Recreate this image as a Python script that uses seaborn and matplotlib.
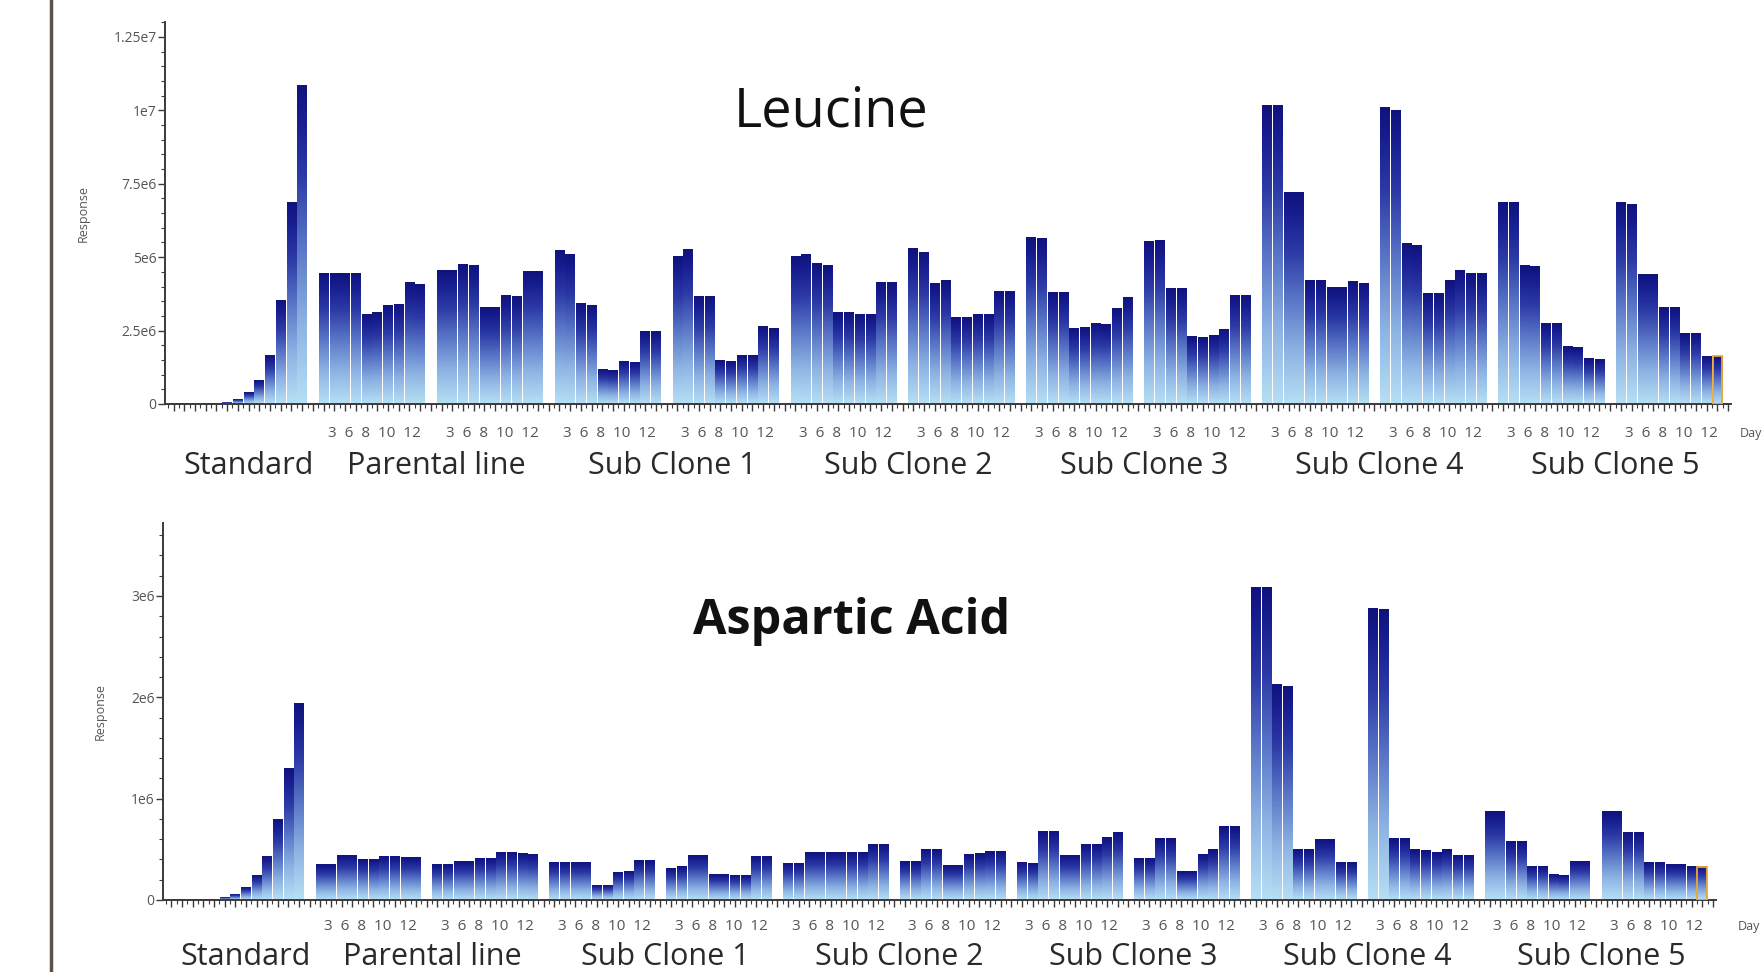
import numpy as np
import pandas as pd
import matplotlib
matplotlib.use('Agg')
import matplotlib.pyplot as plt
import matplotlib.ticker as mticker
import matplotlib.transforms as mtransforms
from matplotlib.colors import LinearSegmentedColormap
from matplotlib.lines import Line2D
import seaborn as sns

# Sample names and sampling days (each day run in duplicate)
samples = ['Parental line', 'Sub Clone 1', 'Sub Clone 2', 'Sub Clone 3', 'Sub Clone 4', 'Sub Clone 5']
days = [3, 6, 8, 10, 12]

# Leucine responses, in millions (two runs per sample)
leu_standard = [0.001, 0.002, 0.004, 0.01, 0.025, 0.06, 0.14, 0.38, 0.8, 1.66, 3.53, 6.85, 10.85]
leu_parental = [[4.44, 4.44, 4.44, 4.44, 3.04, 3.10, 3.36, 3.38, 4.13, 4.07],
                [4.55, 4.53, 4.76, 4.70, 3.29, 3.27, 3.69, 3.67, 4.51, 4.51]]
leu_clone1 = [[5.22, 5.08, 3.42, 3.36, 1.17, 1.15, 1.46, 1.43, 2.47, 2.47],
              [5.01, 5.25, 3.65, 3.65, 1.49, 1.46, 1.64, 1.64, 2.64, 2.58]]
leu_clone2 = [[5.01, 5.10, 4.78, 4.72, 3.10, 3.10, 3.06, 3.04, 4.13, 4.13],
              [5.28, 5.16, 4.11, 4.19, 2.96, 2.96, 3.06, 3.04, 3.84, 3.84]]
leu_clone3 = [[5.68, 5.65, 3.81, 3.81, 2.56, 2.61, 2.75, 2.72, 3.25, 3.64],
              [5.53, 5.56, 3.92, 3.92, 2.29, 2.27, 2.32, 2.55, 3.69, 3.69]]
leu_clone4 = [[10.15, 10.15, 7.19, 7.19, 4.19, 4.19, 3.98, 3.96, 4.16, 4.09],
              [10.11, 9.98, 5.45, 5.39, 3.78, 3.78, 4.21, 4.55, 4.44, 4.44]]
leu_clone5 = [[6.85, 6.85, 4.70, 4.67, 2.75, 2.75, 1.95, 1.92, 1.55, 1.53],
              [6.85, 6.80, 4.41, 4.41, 3.29, 3.29, 2.41, 2.41, 1.63, 1.63]]

# Aspartic acid responses, in millions
asp_standard = [0.001, 0.001, 0.002, 0.004, 0.008, 0.02, 0.05, 0.12, 0.24, 0.43, 0.79, 1.30, 1.94]
asp_parental = [[0.35, 0.35, 0.44, 0.44, 0.40, 0.40, 0.43, 0.43, 0.42, 0.42],
                [0.35, 0.35, 0.38, 0.38, 0.41, 0.41, 0.47, 0.47, 0.46, 0.45]]
asp_clone1 = [[0.37, 0.37, 0.37, 0.37, 0.14, 0.14, 0.27, 0.28, 0.39, 0.39],
              [0.31, 0.33, 0.44, 0.44, 0.25, 0.25, 0.24, 0.24, 0.43, 0.43]]
asp_clone2 = [[0.36, 0.36, 0.47, 0.47, 0.47, 0.47, 0.47, 0.47, 0.55, 0.55],
              [0.38, 0.38, 0.50, 0.50, 0.34, 0.34, 0.45, 0.46, 0.48, 0.48]]
asp_clone3 = [[0.37, 0.36, 0.68, 0.68, 0.44, 0.44, 0.55, 0.55, 0.62, 0.67],
              [0.41, 0.41, 0.61, 0.61, 0.28, 0.28, 0.45, 0.50, 0.73, 0.73]]
asp_clone4 = [[3.08, 3.08, 2.13, 2.11, 0.50, 0.50, 0.60, 0.60, 0.37, 0.37],
              [2.88, 2.87, 0.61, 0.61, 0.50, 0.49, 0.47, 0.50, 0.44, 0.44]]
asp_clone5 = [[0.875, 0.875, 0.58, 0.58, 0.33, 0.33, 0.25, 0.24, 0.38, 0.38],
              [0.875, 0.875, 0.67, 0.67, 0.37, 0.37, 0.35, 0.35, 0.33, 0.33]]

leu_samples = [leu_parental, leu_clone1, leu_clone2, leu_clone3, leu_clone4, leu_clone5]
asp_samples = [asp_parental, asp_clone1, asp_clone2, asp_clone3, asp_clone4, asp_clone5]

# Layout of the x axis: standards, one empty slot, then runs of 10 bars with an empty slot after each
n_std = len(leu_standard)
run_len = 2 * len(days)
first_run = n_std + 1
n_slots = first_run + (run_len + 1) * 2 * len(samples) - 1
slot_order = ['s%03d' % i for i in range(n_slots)]


def build_frame(standard, sample_runs):
    rows = []
    for i, v in enumerate(standard):
        rows.append((slot_order[i], v * 1e6))
    for s, runs in enumerate(sample_runs):
        for r, run in enumerate(runs):
            start = first_run + (2 * s + r) * (run_len + 1)
            for j, v in enumerate(run):
                rows.append((slot_order[start + j], v * 1e6))
    return pd.DataFrame(rows, columns=['slot', 'response'])


def sci_label(v, pos):
    if v <= 0:
        return '0'
    exp = int(np.floor(np.log10(v) + 1e-9))
    return '%ge%d' % (v / 10 ** exp, exp)


sns.set_theme(style='white')
plt.rcParams['font.family'] = ['Open Sans', 'DejaVu Sans']

bar_cmap = LinearSegmentedColormap.from_list(
    'bars', [(0.0, '#b6e0f5'), (0.25, '#8db3e3'), (0.5, '#5874c6'),
             (0.72, '#2c3aa6'), (0.9, '#171d8f'), (1.0, '#10137c')])
grad = np.linspace(0, 1, 256).reshape(-1, 1)

fig = plt.figure(figsize=(17.64, 9.72), dpi=100)
ax_top = fig.add_axes([0.0935, 0.5844, 0.888, 0.3927])
ax_bot = fig.add_axes([0.0924, 0.0741, 0.8804, 0.3878])

# left frame line of the screenshot
fig.add_artist(Line2D([0.029, 0.029], [0, 1], color='#5b5345', lw=2.5, transform=fig.transFigure))

panels = [
    (ax_top, leu_standard, leu_samples, 1.30e7, 2.5e6, 'Leucine', 'normal', 39, (0.471, 0.885),
     0.5206, 0.5545, -0.048, 0.986),
    (ax_bot, asp_standard, asp_samples, 3.72e6, 1e6, 'Aspartic Acid', 'bold', 35, (0.4825, 0.361),
     0.0150, 0.0473, -0.036, 0.985),
]

for (ax, standard, sample_runs, ytop, ystep, title, weight, tsize, tpos,
     label_y, day_y, ylab_x, day_x) in panels:
    df = build_frame(standard, sample_runs)
    sns.barplot(data=df, x='slot', y='response', order=slot_order, width=0.9,
                color='#3b4fb5', errorbar=None, ax=ax)

    # vertical gradient inside every bar
    bars = [p for p in ax.patches if p.get_height() > 0]
    last = max(bars, key=lambda p: p.get_x())
    for p in bars:
        x0, w, h = p.get_x(), p.get_width(), p.get_height()
        ax.imshow(grad, extent=(x0, x0 + w, 0, h), origin='lower', aspect='auto',
                  cmap=bar_cmap, zorder=2, interpolation='bilinear')
        p.set_facecolor('none')
        p.set_edgecolor('none')
    last.set_edgecolor('#f0a830')
    last.set_linewidth(1.3)
    last.set_zorder(3)

    ax.set_xlim(-0.8, n_slots + 0.3)
    ax.set_ylim(0, ytop)

    # axes styling
    for side in ['top', 'right']:
        ax.spines[side].set_visible(False)
    for side in ['left', 'bottom']:
        ax.spines[side].set_color('#3a3a3a')
        ax.spines[side].set_linewidth(1.4)
    ax.set_xticks(np.arange(n_slots + 1))
    ax.set_xticklabels([])
    ax.set_xticks(np.arange(n_slots + 1) - 0.5, minor=True)
    ax.yaxis.set_major_locator(mticker.MultipleLocator(ystep))
    ax.yaxis.set_minor_locator(mticker.AutoMinorLocator(5))
    ax.yaxis.set_major_formatter(mticker.FuncFormatter(sci_label))
    ax.tick_params(axis='both', which='major', direction='out', length=5, width=1,
                   color='#3a3a3a', bottom=True, left=True, labelsize=10, labelcolor='#555555', pad=1)
    ax.tick_params(axis='both', which='minor', direction='out', length=3, width=0.8,
                   color='#3a3a3a', bottom=True, left=True)
    ax.set_xlabel('')
    ax.set_ylabel('Response', fontsize=9, color='#555555')
    ax.yaxis.set_label_coords(ylab_x, 0.5)

    fig.text(tpos[0], tpos[1], title, ha='center', va='center', fontsize=tsize,
             fontweight=weight, color='#111111')

    # day numbers under each run and sample names under each pair of runs
    trans = mtransforms.blended_transform_factory(ax.transData, fig.transFigure)
    day_text = '  '.join(str(d) for d in days)
    for k in range(2 * len(samples)):
        start = first_run + k * (run_len + 1)
        ax.text(start + (run_len - 1) / 2 + 0.2, day_y, day_text, transform=trans,
                ha='center', va='center', fontsize=11, color='#555555', clip_on=False)
    ax.text((n_std - 1) / 2 + 1, label_y, 'Standard', transform=trans, ha='center',
            va='center', fontsize=22, color='#2a2a2a', clip_on=False)
    for s, name in enumerate(samples):
        start = first_run + 2 * s * (run_len + 1)
        ax.text(start + run_len + 0.5, label_y, name, transform=trans, ha='center',
                va='center', fontsize=22, color='#2a2a2a', clip_on=False)
    fig.text(day_x, day_y, 'Day', ha='left', va='center', fontsize=9, color='#555555')

fig.savefig('out.png', dpi=100)
